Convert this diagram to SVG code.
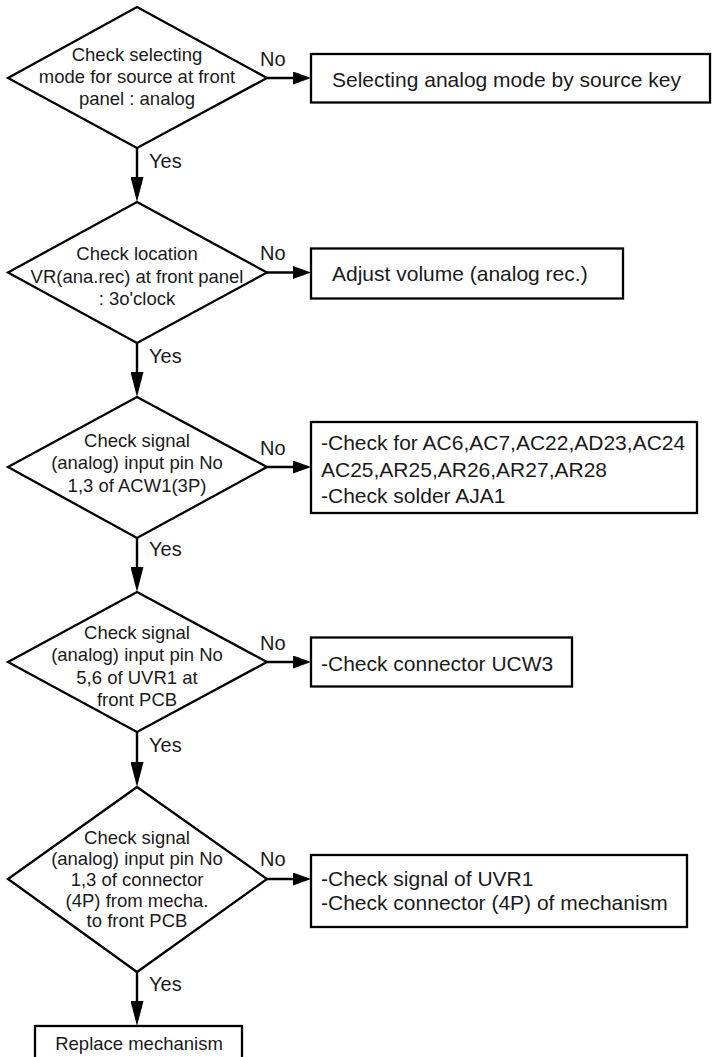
<svg xmlns="http://www.w3.org/2000/svg" width="712" height="1057" viewBox="0 0 712 1057">
<style>
.shape{fill:#fff;stroke:#000;stroke-width:2.3}
.conn{fill:none;stroke:#000;stroke-width:2.4}
.dt{font-family:"Liberation Sans",Arial,Helvetica,sans-serif;font-size:18.5px;fill:#1a1a1a;text-anchor:middle}
.bt{font-family:"Liberation Sans",Arial,Helvetica,sans-serif;font-size:21px;fill:#1a1a1a}
.lbl{font-family:"Liberation Sans",Arial,Helvetica,sans-serif;font-size:20px;fill:#1a1a1a}
</style>
<defs>
<marker id="ah" markerUnits="userSpaceOnUse" markerWidth="18" markerHeight="13" refX="8" refY="6.5" orient="auto" viewBox="0 0 18 13">
<path d="M0,0 L18,6.5 L0,13 z" fill="#000"/>
</marker>
<marker id="av" markerUnits="userSpaceOnUse" markerWidth="25" markerHeight="13" refX="15" refY="6.5" orient="auto" viewBox="0 0 25 13">
<path d="M0,0 L25,6.5 L0,13 z" fill="#000"/>
</marker>
</defs>
<rect width="712" height="1057" fill="#fff"/>

<g id="connectors">
<line class="conn" x1="267" y1="78" x2="301" y2="78" marker-end="url(#ah)"/>
<line class="conn" x1="267" y1="272.5" x2="301" y2="272.5" marker-end="url(#ah)"/>
<line class="conn" x1="267" y1="467" x2="301" y2="467" marker-end="url(#ah)"/>
<line class="conn" x1="267" y1="662" x2="301" y2="662" marker-end="url(#ah)"/>
<line class="conn" x1="267" y1="879" x2="301" y2="879" marker-end="url(#ah)"/>
<line class="conn" x1="137" y1="148" x2="137" y2="192" marker-end="url(#av)"/>
<line class="conn" x1="137" y1="343" x2="137" y2="387" marker-end="url(#av)"/>
<line class="conn" x1="137" y1="538" x2="137" y2="582" marker-end="url(#av)"/>
<line class="conn" x1="137" y1="732" x2="137" y2="777" marker-end="url(#av)"/>
<line class="conn" x1="137" y1="972" x2="137" y2="1016" marker-end="url(#av)"/>
<text class="lbl" x="260" y="66">No</text>
<text class="lbl" x="260" y="260">No</text>
<text class="lbl" x="260" y="455">No</text>
<text class="lbl" x="260" y="650">No</text>
<text class="lbl" x="260" y="866">No</text>
<text class="lbl" x="149" y="168">Yes</text>
<text class="lbl" x="149" y="363">Yes</text>
<text class="lbl" x="149" y="556">Yes</text>
<text class="lbl" x="149" y="752">Yes</text>
<text class="lbl" x="149" y="991">Yes</text>
</g>

<g id="d1">
<polygon class="shape" points="137,7 267,78 137,148 8,78"/>
<text class="dt" x="137" y="61">Check selecting</text>
<text class="dt" x="137" y="83">mode for source at front</text>
<text class="dt" x="137" y="105">panel : analog</text>
</g>
<g id="b1">
<rect class="shape" x="311" y="54" width="399" height="48.5"/>
<text class="bt" x="332" y="86.5">Selecting analog mode by source key</text>
</g>

<g id="d2">
<polygon class="shape" points="137,202 267,272.5 137,343 8,272.5"/>
<text class="dt" x="137" y="260">Check location</text>
<text class="dt" x="137" y="282.5">VR(ana.rec) at front panel</text>
<text class="dt" x="137" y="304.5">: 3o'clock</text>
</g>
<g id="b2">
<rect class="shape" x="311" y="248.5" width="312" height="50"/>
<text class="bt" x="332" y="280.5">Adjust volume (analog rec.)</text>
</g>

<g id="d3">
<polygon class="shape" points="137,397 267,467 137,538 8,467"/>
<text class="dt" x="137" y="446.5">Check signal</text>
<text class="dt" x="137" y="469">(analog) input pin No</text>
<text class="dt" x="137" y="491.5">1,3 of ACW1(3P)</text>
</g>
<g id="b3">
<rect class="shape" x="311" y="422" width="386" height="91"/>
<text class="bt" x="321" y="450">-Check for AC6,AC7,AC22,AD23,AC24</text>
<text class="bt" x="321" y="476.5">AC25,AR25,AR26,AR27,AR28</text>
<text class="bt" x="321" y="503">-Check solder AJA1</text>
</g>

<g id="d4">
<polygon class="shape" points="137,592 267,662 137,732 8,662"/>
<text class="dt" x="137" y="638.5">Check signal</text>
<text class="dt" x="137" y="661">(analog) input pin No</text>
<text class="dt" x="137" y="683.5">5,6 of UVR1 at</text>
<text class="dt" x="137" y="706">front PCB</text>
</g>
<g id="b4">
<rect class="shape" x="311" y="637.5" width="261" height="49"/>
<text class="bt" x="321" y="670.5">-Check connector UCW3</text>
</g>

<g id="d5">
<polygon class="shape" points="137,787 267,879 137,972 8,879"/>
<text class="dt" x="137" y="843.5">Check signal</text>
<text class="dt" x="137" y="864.5">(analog) input pin No</text>
<text class="dt" x="137" y="885.5">1,3 of connector</text>
<text class="dt" x="137" y="906.5">(4P) from mecha.</text>
<text class="dt" x="137" y="927">to front PCB</text>
</g>
<g id="b5">
<rect class="shape" x="311" y="855" width="376" height="72"/>
<text class="bt" x="321" y="885.5">-Check signal of UVR1</text>
<text class="bt" x="321" y="910">-Check connector (4P) of mechanism</text>
</g>

<g id="b6">
<rect class="shape" x="35" y="1026" width="207" height="45"/>
<text class="dt" x="139" y="1049.5">Replace mechanism</text>
</g>
</svg>
